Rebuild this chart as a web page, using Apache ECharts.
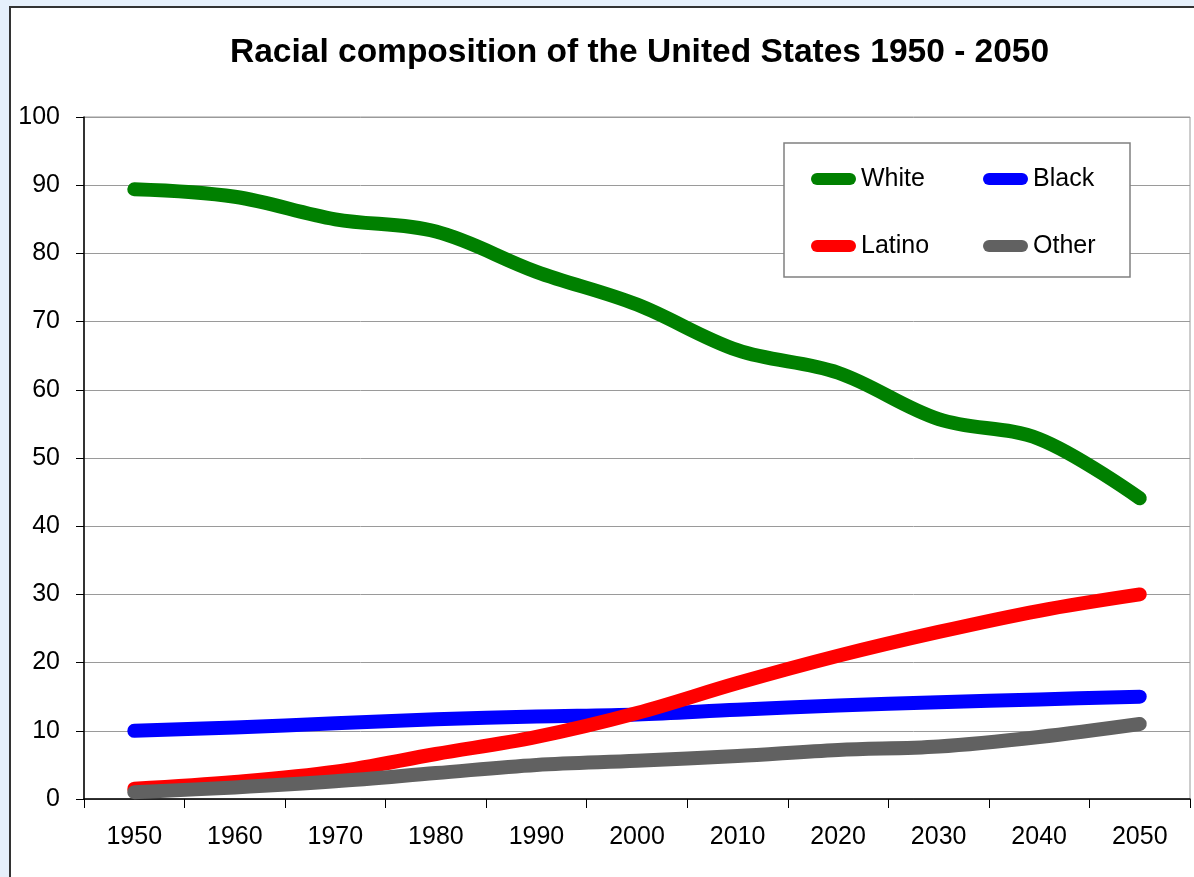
<!DOCTYPE html>
<html>
<head>
<meta charset="utf-8">
<script src="https://cdn.jsdelivr.net/npm/echarts@6/dist/echarts.min.js"></script>
<style>
  html, body { margin: 0; padding: 0; background: #e6f0fb; }
  #panel {
    position: absolute; left: 9px; top: 6px; width: 1200px; height: 900px;
    background: #fff; border-left: 2px solid #333; border-top: 2px solid #333;
  }
  #chart { position: absolute; left: 0; top: 0; width: 1194px; height: 877px; }
</style>
</head>
<body>
<div id="panel"></div>
<div id="chart"></div>
<script>
// values (percent of population)
const years = ["1950", "1960", "1970", "1980", "1990", "2000", "2010", "2020", "2030", "2040", "2050"];
const white = [89.4, 88.3, 85.0, 83.2, 77.3, 72.5, 65.8, 62.5, 55.7, 52.8, 44.1];
const black = [10.0, 10.5, 11.1, 11.7, 12.1, 12.4, 13.1, 13.7, 14.2, 14.6, 15.0];
const latino = [1.5, 2.5, 4.0, 6.6, 9.1, 12.6, 17.0, 21.0, 24.5, 27.6, 30.0];
const other = [1.0, 1.7, 2.6, 3.8, 5.0, 5.6, 6.3, 7.2, 7.7, 9.1, 11.0];

const font = "'Liberation Sans', Arial, sans-serif";
const capsule = "path://M6,0 L39,0 A6,6 0 0 1 39,12 L6,12 A6,6 0 0 1 6,0 Z";

const chart = echarts.init(document.getElementById("chart"));

function line(name, data, color) {
  return {
    name: name,
    type: "line",
    data: data,
    smooth: 0.35,
    showSymbol: false,
    silent: true,
    color: color,
    lineStyle: { width: 14, color: color, cap: "round", join: "round" },
  };
}

const option = {
  animation: false,
  textStyle: { fontFamily: font },
  title: {
    text: "Racial composition of the United States 1950 - 2050",
    left: 225,
    top: 31,
    textStyle: { fontSize: 33.5, fontWeight: "bold", color: "#000", fontFamily: font },
  },
  legend: {
    left: 784,
    top: 143,
    width: 310,
    orient: "horizontal",
    padding: [23.5, 17, 18.5, 27],
    itemGap: 42,
    itemWidth: 45,
    itemHeight: 12,
    icon: capsule,
    backgroundColor: "#fff",
    borderColor: "#808080",
    borderWidth: 1.5,
    selectedMode: false,
    textStyle: {
      fontSize: 25,
      color: "#000",
      fontFamily: font,
      width: 80,
      lineHeight: 25,
      overflow: "none",
    },
    data: ["White", "Black", "Latino", "Other"],
  },
  grid: {
    left: 84,
    right: 4,
    top: 117,
    bottom: 78,
    show: true,
    borderColor: "#9a9a9a",
    borderWidth: 1,
  },
  xAxis: {
    type: "category",
    data: years,
    boundaryGap: true,
    axisLine: { lineStyle: { color: "#000", width: 1.5 } },
    axisTick: { show: true, interval: 0, length: 9, lineStyle: { color: "#000" } },
    axisLabel: { fontSize: 25, color: "#000", margin: 26, interval: 0 },
  },
  yAxis: {
    type: "value",
    min: 0,
    max: 100,
    interval: 10,
    axisLine: { show: true, lineStyle: { color: "#000", width: 1.5 } },
    axisTick: { show: true, length: 8, lineStyle: { color: "#000" } },
    axisLabel: { fontSize: 25, color: "#000", margin: 24 },
    splitLine: { lineStyle: { color: "#9a9a9a", width: 1 } },
  },
  series: [
    line("White", white, "#008000"),
    line("Black", black, "#0000ff"),
    line("Latino", latino, "#ff0000"),
    line("Other", other, "#616161"),
  ],
};

chart.setOption(option);
</script>
</body>
</html>
